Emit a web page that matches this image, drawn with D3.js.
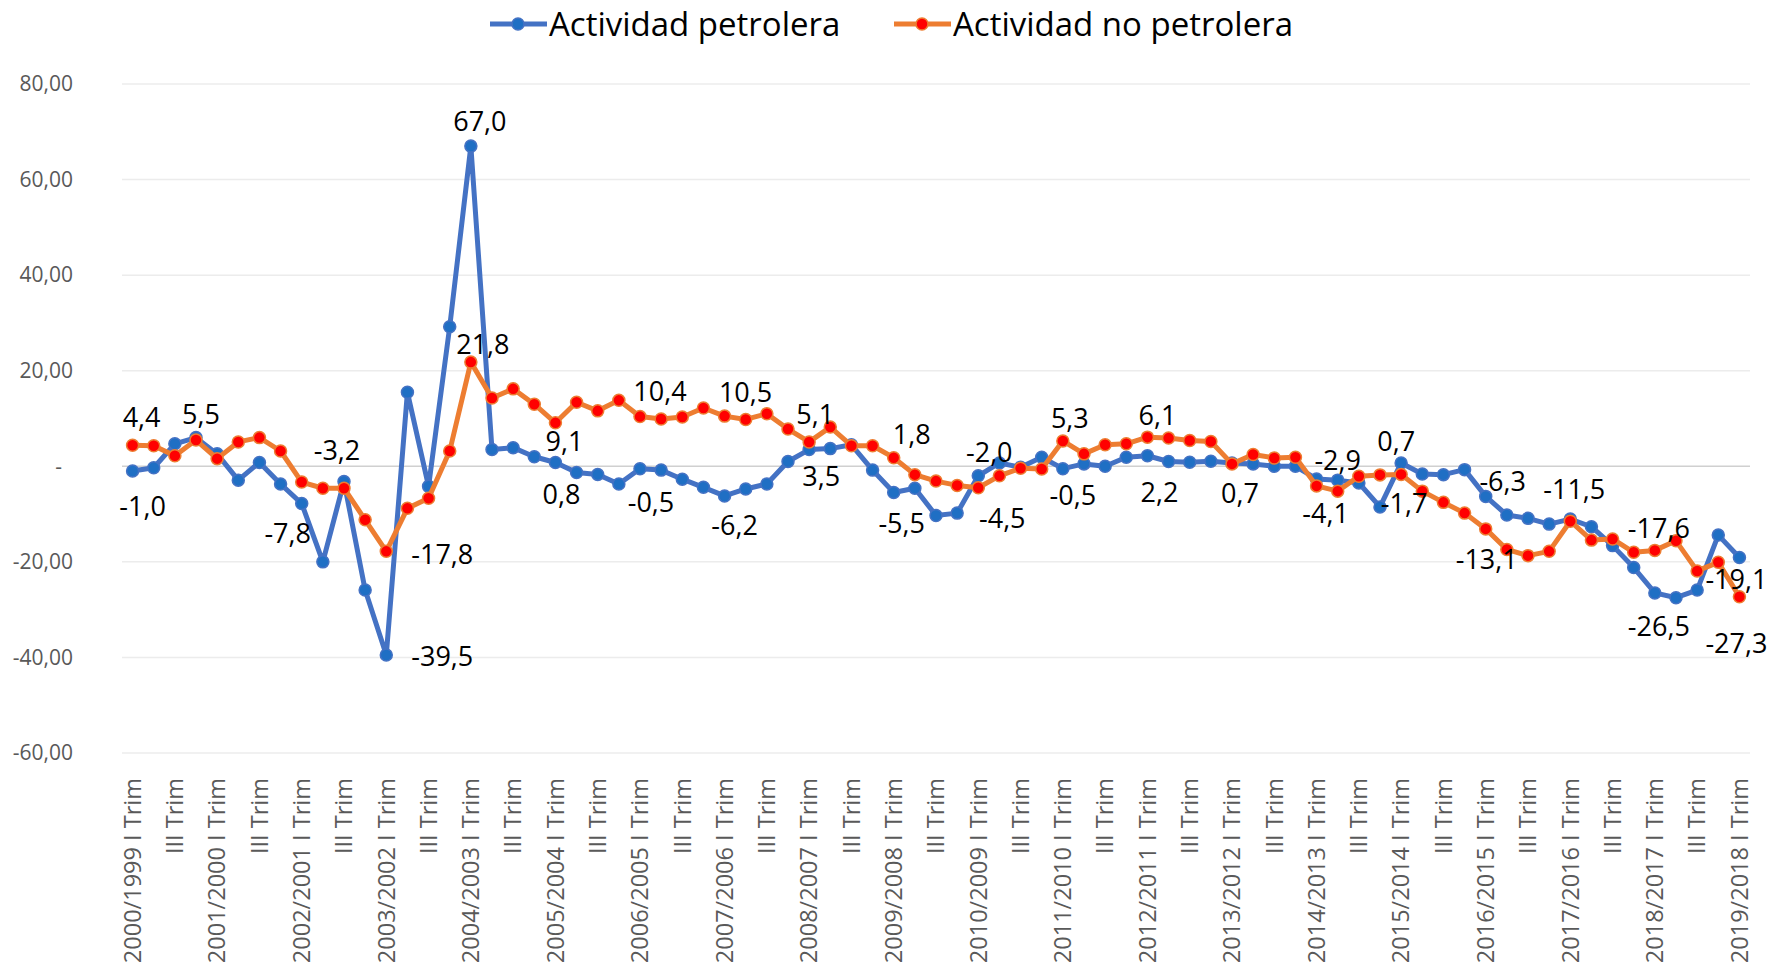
<!DOCTYPE html>
<html>
<head>
<meta charset="utf-8">
<script src="https://d3js.org/d3.v7.min.js"></script>
<style>
  body { margin: 0; background: #fff; }
  svg { display: block; font-family: "Open Sans", sans-serif; }
</style>
</head>
<body>
<svg id="chart" width="1775" height="965"></svg>
<script>
// data
const years = ["2000/1999", "2001/2000", "2002/2001", "2003/2002", "2004/2003", "2005/2004",
    "2006/2005", "2007/2006", "2008/2007", "2009/2008", "2010/2009", "2011/2010", "2012/2011",
    "2013/2012", "2014/2013", "2015/2014", "2016/2015", "2017/2016", "2018/2017", "2019/2018"];
const quarters = ["I Trim", "II Trim", "III Trim", "IV Trim"];

const petrolera = [
    -1.0, -0.3, 4.7, 6.0, 2.6, -2.9, 0.8, -3.7, -7.8, -20.0, -3.2, -25.9, -39.5,
    15.5, -4.2, 29.2, 67.0, 3.5, 3.9, 2.0, 0.8, -1.3, -1.7, -3.7, -0.5, -0.8,
    -2.7, -4.4, -6.2, -4.75, -3.7, 1.0, 3.5, 3.7, 4.5, -0.8, -5.5, -4.6, -10.3,
    -9.8, -2.0, 0.7, -0.2, 1.9, -0.5, 0.5, 0.0, 1.9, 2.2, 1.0, 0.85, 1.05, 0.7,
    0.5, 0.0, 0.0, -2.65, -2.9, -3.5, -8.5, 0.7, -1.6, -1.75, -0.7, -6.3, -10.2,
    -10.9, -12.1, -11.05, -12.65, -16.6, -21.2, -26.5, -27.5, -25.9, -14.4, -19.1
];
const noPetrolera = [
    4.4, 4.3, 2.2, 5.5, 1.6, 5.1, 6.0, 3.2, -3.3, -4.6, -4.6, -11.2, -17.8,
    -8.8, -6.7, 3.2, 21.8, 14.3, 16.2, 13.0, 9.1, 13.4, 11.6, 13.8, 10.4, 9.9,
    10.3, 12.2, 10.5, 9.8, 11.0, 7.8, 5.1, 8.2, 4.3, 4.3, 1.8, -1.75, -3.1,
    -4.0, -4.5, -2.0, -0.4, -0.55, 5.3, 2.6, 4.5, 4.7, 6.1, 5.9, 5.4, 5.2, 0.5,
    2.45, 1.75, 1.9, -4.1, -5.2, -2.1, -1.8, -1.7, -5.2, -7.55, -9.8, -13.1, -17.4,
    -18.7, -17.8, -11.5, -15.45, -15.2, -18.0, -17.6, -15.6, -21.9, -20.1, -27.3
];

const yTicks = [-60, -40, -20, 0, 20, 40, 60, 80];

// which points carry a value label
const petroleraLabels = [0, 8, 10, 12, 16, 20, 24, 28, 32, 36, 40, 44, 48, 52, 57, 60, 64, 72, 76];
const noPetroleraLabels = [0, 3, 12, 16, 20, 24, 28, 32, 36, 40, 44, 48, 56, 60, 64, 68, 72, 76];

const categories = years.flatMap(y => quarters.map((q, j) => j === 0 ? y + " " + q : q))
    .slice(0, petrolera.length);

// label placement (centre offset from point)
const petroleraOffsets = {
    0: [10, 35], 8: [-14, 30], 10: [-7, -31], 12: [56, 2], 16: [9, -25], 20: [6, 32],
    24: [11, 34], 28: [10, 30], 32: [12, 27], 36: [8, 31], 40: [11, -23], 44: [10, 27],
    48: [12, 37], 52: [8, 31], 57: [0, -20], 60: [-5, -21], 64: [17, -15], 72: [4, 34],
    76: [-3, 22]
};
const noPetroleraOffsets = {
    0: [9, -28], 3: [5, -25], 12: [56, 3], 16: [12, -18], 20: [9, 19], 24: [20, -25],
    28: [21, -24], 32: [6, -27], 36: [18, -23], 40: [24, 31], 44: [7, -22], 48: [10, -22],
    56: [9, 28], 60: [3, 29], 64: [1, 31], 68: [4, -32], 72: [4, -22], 76: [-3, 47]
};

const locale = d3.formatLocale({decimal: ",", thousands: ".", grouping: [3], currency: ["", ""], minus: "-"});
const fmtTick = locale.format(".2f");
const fmtLabel = locale.format(".1f");

const svg = d3.select("#chart");
const margin = {left: 122, right: 25, top: 84, bottom: 212};
const W = 1775, H = 965;

const x = d3.scalePoint()
    .domain(d3.range(categories.length))
    .range([margin.left, W - margin.right])
    .padding(0.5);

const y = d3.scaleLinear()
    .domain([-60, 80])
    .range([H - margin.bottom, margin.top]);

// gridlines
svg.append("g")
    .selectAll("line")
    .data(yTicks)
    .join("line")
    .attr("x1", margin.left)
    .attr("x2", W - margin.right)
    .attr("y1", d => y(d))
    .attr("y2", d => y(d))
    .attr("stroke", d => d === 0 ? "#d0d0d0" : "#ececec")
    .attr("stroke-width", 1.5);

// y axis labels
svg.append("g")
    .selectAll("text")
    .data(yTicks)
    .join("text")
    .attr("x", d => d === 0 ? 62 : 73)
    .attr("y", d => y(d))
    .attr("dy", "0.35em")
    .attr("text-anchor", "end")
    .attr("fill", "#595959")
    .style("font-size", "21px")
    .text(d => d === 0 ? "-" : fmtTick(d));

// x axis labels (every other category)
svg.append("g")
    .selectAll("text")
    .data(categories.map((c, i) => ({c, i})).filter(d => d.i % 2 === 0))
    .join("text")
    .attr("transform", d => `translate(${x(d.i)},778) rotate(-90)`)
    .attr("dy", "0.35em")
    .attr("text-anchor", "end")
    .attr("fill", "#595959")
    .style("font-size", "23.5px")
    .text(d => d.c);

const line = d3.line()
    .x((d, i) => x(i))
    .y(d => y(d));

function drawSeries(values, lineColor, markerFill, markerStroke) {
    const g = svg.append("g");
    g.append("path")
        .datum(values)
        .attr("d", line)
        .attr("fill", "none")
        .attr("stroke", lineColor)
        .attr("stroke-width", 5)
        .attr("stroke-linejoin", "round");
    g.selectAll("circle")
        .data(values)
        .join("circle")
        .attr("cx", (d, i) => x(i))
        .attr("cy", d => y(d))
        .attr("r", 6)
        .attr("fill", markerFill)
        .attr("stroke", markerStroke)
        .attr("stroke-width", 1.5);
}

drawSeries(petrolera, "#4472c4", "#1f6fc4", "#4472c4");
drawSeries(noPetrolera, "#ed7d31", "#ff0000", "#ed7d31");

function drawLabels(values, idx, offsets) {
    svg.append("g")
        .selectAll("text")
        .data(idx)
        .join("text")
        .attr("x", i => x(i) + offsets[i][0])
        .attr("y", i => y(values[i]) + offsets[i][1])
        .attr("dy", "0.35em")
        .attr("text-anchor", "middle")
        .attr("fill", "#000")
        .style("font-size", "27px")
        .text(i => fmtLabel(values[i]));
}

drawLabels(petrolera, petroleraLabels, petroleraOffsets);
drawLabels(noPetrolera, noPetroleraLabels, noPetroleraOffsets);

// legend
const legend = [
    {name: "Actividad petrolera", x: 490, line: "#4472c4", fill: "#1f6fc4", stroke: "#4472c4"},
    {name: "Actividad no petrolera", x: 894, line: "#ed7d31", fill: "#ff0000", stroke: "#ed7d31"}
];
const lg = svg.append("g")
    .selectAll("g")
    .data(legend)
    .join("g")
    .attr("transform", d => `translate(${d.x},24)`);
lg.append("line")
    .attr("x1", 0).attr("x2", 57)
    .attr("stroke", d => d.line)
    .attr("stroke-width", 5);
lg.append("circle")
    .attr("cx", 28).attr("r", 6)
    .attr("fill", d => d.fill)
    .attr("stroke", d => d.stroke)
    .attr("stroke-width", 1.5);
lg.append("text")
    .attr("x", 59)
    .attr("dy", "0.35em")
    .attr("fill", "#000")
    .style("font-size", "33px")
    .text(d => d.name);
</script>
</body>
</html>
